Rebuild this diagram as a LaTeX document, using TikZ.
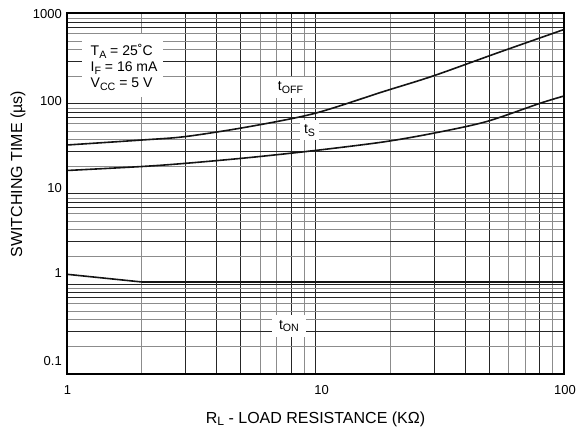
\documentclass[tikz,border=0pt]{standalone}
\usepackage{fontspec}
\setmainfont{Liberation Sans}
\newcommand\sbs[1]{\raisebox{-0.35ex}{\scalebox{0.76}{#1}}}
\begin{document}
\begin{tikzpicture}[x=1pt,y=-1pt,
  gridb/.style={line width=1pt, black!85},
  gridg/.style={line width=1pt, black!45},
  frame/.style={line width=1.8pt, black},
  curve/.style={line width=1.6pt, black!92, line join=round, line cap=round},
  tick/.style={font=\fontsize{13}{13}\selectfont, inner sep=0pt},
  axtitle/.style={font=\fontsize{16}{16}\selectfont, inner sep=0pt},
  cond/.style={font=\fontsize{14}{14}\selectfont, inner sep=0pt},
  curvelbl/.style={fill=white, inner sep=0pt, font=\fontsize{14}{14}\selectfont}]
\useasboundingbox (0,0) rectangle (583,430);
% vertical grid (x: 1 .. 100, decade = 248.5 px)
\foreach \d in {0,1}{
  \foreach \n/\c in {2/gridg,3/gridb,4/gridb,5/gridb,6/gridg,7/gridg,8/gridb,9/gridg}{
    \pgfmathsetmacro\xx{67+248.5*(\d+log10(\n))}
    \draw[\c] (\xx,13) -- (\xx,374);
  }
}
\draw[gridb] (315.5,13) -- (315.5,374);
% horizontal grid (y: 0.1 .. 1000, decade = 90 px)
\foreach \d in {0,1,2,3}{
  \foreach \n/\c in {2/gridg,3/gridb,4/gridg,5/gridg,6/gridg,7/gridb,8/gridb,9/gridg}{
    \pgfmathsetmacro\yy{374-90*(\d+log10(\n))}
    \draw[\c] (67,\yy) -- (564,\yy);
  }
}
\foreach \yy in {284,194,104}{\draw[gridb] (67,\yy) -- (564,\yy);}
% white patch and test conditions
\node (cond) [fill=white, minimum width=81, minimum height=63, anchor=north west, inner sep=0pt] at (82,34) {};
\node (ta) [cond, anchor=base west] at (90.5,56) {T\sbs{A} = 25˚C};
\node (if) [cond, anchor=base west] at (90.5,72) {I\sbs{F} = 16 mA};
\node (vcc) [cond, anchor=base west] at (90.5,88) {V\sbs{CC} = 5 V};
% curves
\draw[curve] plot[smooth, tension=0.5] coordinates {(67,145) (142,140) (186,136.5) (250,126.5) (315,113.3) (383,91.7) (433,76) (498,52.7) (564,29.5)};
\draw[curve] plot[smooth, tension=0.5] coordinates {(67,170.5) (142,166.5) (186,163.3) (250,157.5) (315,150.5) (383,142) (433,133.3) (486,121.7) (540,103.3) (564,96)};
\draw[curve] (67,274.3) -- (142,282) -- (564,282);
% curve labels
\node (toff) [curvelbl, minimum width=31, minimum height=21] at (290.5,87.5) {t\sbs{OFF}};
\node (ts) [curvelbl, minimum width=19, minimum height=20] at (309.5,130.5) {t\sbs{S}};
\node (ton) [curvelbl, minimum width=34, minimum height=22] at (289,326) {t\sbs{ON}};
% frame
\draw[frame] (67,13) rectangle (564,374);
% tick labels
\node (y1000) [tick, anchor=east] at (62,14) {1000};
\node (y100) [tick, anchor=east] at (62,101.5) {100};
\node (y10) [tick, anchor=east] at (62,188) {10};
\node (y1) [tick, anchor=east] at (62,273.3) {1};
\node (y01) [tick, anchor=east] at (62,360.7) {0.1};
\node (x1) [tick] at (67.5,390.5) {1};
\node (x10) [tick] at (321.5,390.5) {10};
\node (x100) [tick] at (565,390.5) {100};
% axis titles
\node (xtitle) [axtitle, anchor=base] at (315.5,423) {R\sbs{L} - LOAD RESISTANCE (KΩ)};
\node (ytitle) [axtitle, rotate=90] at (18,174) {SWITCHING TIME (µs)};
\end{tikzpicture}
\end{document}
